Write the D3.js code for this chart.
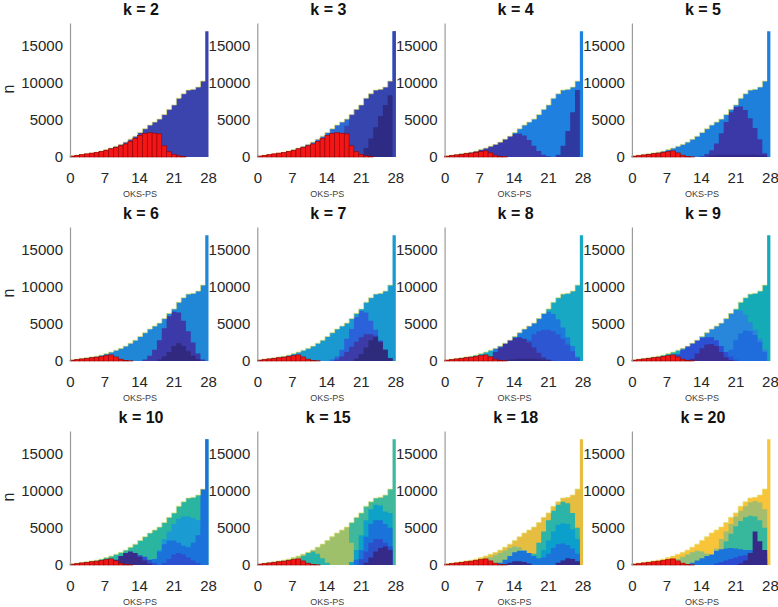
<!DOCTYPE html>
<html><head><meta charset="utf-8">
<script src="https://cdn.jsdelivr.net/npm/d3@7"></script>
<style>
body{margin:0;background:#fff}
text{font-family:"Liberation Sans",Arial,Helvetica,sans-serif}
</style>
</head><body>
<svg id="chart" width="778" height="607"></svg>
<script>
// ---------- data ----------
// bin index 0..27 are the regular bins, index 28 is the narrow bin at 28
const NB = 29;
const at = (start, vals) => { const a = new Array(NB).fill(0); vals.forEach((v, j) => a[start + j] = v); return a; };

const titles = ["k = 2","k = 3","k = 4","k = 5","k = 6","k = 7","k = 8","k = 9","k = 10","k = 15","k = 18","k = 20"];
const xTicks = [0, 7, 14, 21, 28];
const yTicks = [0, 5000, 10000, 15000];

// total histogram (outer envelope), same in every panel
const total = [150,250,350,450,550,650,800,1000,1200,1450,1700,2000,2400,2800,3300,3800,4300,4700,5100,5700,6400,7000,7900,8500,9000,9100,9400,10200,16900];

// red cluster
const redA = at(0, [130,230,330,420,520,620,750,900,1100,1300,1500,1750,2100,2500,2900,3150,3250,3200,3100,1500,700,350,150,80]);
const redB = at(0, [120,200,280,360,440,520,620,720,820,550,250,80,30]);

// other clusters (region tops, drawn back to front)
const k2Layers = [total];
const k2Colors = ["#3b44ad"];

const k3Layers = [total,
  at(14, [300,800,1500,2600,4200,5700,6400,7000,7900,8500,9000,9100,9400,10200,16900]),
  at(21, [300,1200,2500,4000,5500,7000,8300])];
const k3Colors = ["#2f69d5", "#3745ae", "#2e2b84"];

const k4Layers = [total,
  at(0, [150,250,350,450,550,650,800,1000,1200,1450,1700,2000,2400,2800,3100,3150,2900,2300,1500,800,300,100]),
  at(23, [300,1500,3500,6000,9000])];
const k4Colors = ["#1f80e0", "#3a3ba8", "#2e3aa0"];

const k5Layers = [total,
  at(14, [100,400,900,1800,3200,4700,6000,6700,6800,6300,5200,3900,2400,500]),
  at(16, [200,250,300,300,300,300,300,300,300,300,250,200])];
const k5Colors = ["#1e80da", "#3a39a7", "#30298a"];

const k6Layers = [total,
  at(15, [200,700,1500,2800,4400,6000,6600,6500,5400,4000,2500,1000,200]),
  at(18, [200,600,1200,2000,2400,2000,1300,700,250,50])];
const k6Colors = ["#1f87d5", "#3b3aa8", "#30297f"];

const k7Layers = [total,
  at(15, [200,600,1500,3000,4300,5900,6700,6500,5400,4200,2800,1300,300]),
  at(16, [200,600,1200,1900,2600,3200,3600,3600,3400,2600,1500,400]),
  at(20, [300,900,1800,2800,3200,2600,1500,400])];
const k7Colors = ["#1999d0", "#2c62d9", "#3c3ba8", "#2e2a7c"];

const k8Layers = [total,
  at(10, [1700,2000,2400,2800,3300,3800,4300,4700,5100,5700,6300,6600,6300,5600,4500,3200,2000,600]),
  at(14, [500,1000,1800,2800,3600,4000,4200,4200,4000,3600,3000,2200,1300,400]),
  at(8, [200,600,1200,1800,2300,2800,3100,3200,3000,2500,1800,1100,500,200,50]),
  at(12, [100,200,250,300,300,300,300,250,200,150])];
const k8Colors = ["#18a8c4", "#1d78dc", "#2d56d3", "#3a35a0", "#31297f"];

const k9Layers = [total,
  at(10, [1700,2000,2400,2800,3300,3800,4300,4700,5100,5700,6400,6800,6800,6200,5200,4200,3000,1500]),
  at(19, [500,1500,2800,3700,4100,4000,3500,2600,1200]),
  at(9, [900,1500,2000,2400,2800,3100,3200,3200,2800,2000,1200,600,200]),
  at(12, [300,1000,1700,2200,2300,2000,1200,500,150])];
const k9Colors = ["#14aab6", "#2887da", "#1f6cdc", "#2b50d3", "#3b2f95"];

const k10Layers = [total,
  at(18, [2000,3500,4500,5500,6200,6500,6500,6300,6000,6000]),
  at(16, [400,800,1800,2800,3300,3300,3000,2600,2400,3000,4000,10200,16900]),
  at(11, [500,900,1200,1300,1100,700,300,0,300,800,1400,1600,1400,1000,600,300]),
  at(8, [200,700,1200,1600,1800,1600,1100,600,200])];
const k10Colors = ["#2ab5a0", "#1a9bd2", "#1a72da", "#2b50d0", "#372c8a"];

const k15Layers = [total,
  at(6, [800,1000,1200,1450,1700,2000,2400,2800,3300,3800,4300,4700,5100,3000,1500]),
  at(8, [700,1200,1600,1800,1500,900,300]),
  at(19, [400,2000,4000,6000,7500,8100,8000,7200,7000]),
  at(20, [700,2000,3800,5500,6000,6000,5500,5000]),
  at(21, [800,1800,3000,3500,3500,3000,2500]),
  at(22, [300,1000,1800,2300,2500,2000])];
const k15Colors = ["#3fb89b", "#9ec06a", "#28b3a8", "#0ea2c8", "#1a73d8", "#2c4fcc", "#352a87"];

const k18Layers = [total,
  at(9, [1000,1300,1600,1900,2300,2500,2400,2000,1500,1000]),
  at(18, [1500,3000,4500,6000,7300,8100,8500,8300,7000,5000]),
  at(19, [800,2000,3300,4500,5400,5600,5500,4800,3500]),
  at(11, [300,700,1200,1700,1900,1900,1600,1200,900,1000,1500,2300,2800,2900,2700,2200,1500]),
  at(12, [100,300,500,500,400,200,0,0,0,0,0,300,600,900,800,500])];
const k18Colors = ["#e5bd40", "#8fc07b", "#2db4a8", "#0ba0cc", "#1a74da", "#352a87"];

const k20Layers = [total,
  at(16, [1000,2200,3500,4500,5500,6500,7300,7900,8400,8600,8400,7500]),
  at(18, [2000,3200,4200,5200,5900,6400,6600,6500,6000,5000]),
  at(9, [800,1100,1400,1700,1900,1800,1500,1000]),
  at(12, [300,600,900,1200,1400,1900,2100,2200,2300,2200,2100,2000,2000,2000,1900,1500]),
  at(17, [200,400,600,800,1000,1200,1300,1300,1200,1000,800]),
  at(22, [200,600,1600,4500,3200,2000])];
const k20Colors = ["#f7c43a", "#a5bd6c", "#37b89d", "#8ec07c", "#1a74da", "#2a4bd0", "#352a87"];

const panelLayers = [k2Layers,k3Layers,k4Layers,k5Layers,k6Layers,k7Layers,k8Layers,k9Layers,k10Layers,k15Layers,k18Layers,k20Layers];
const panelColors = [k2Colors,k3Colors,k4Colors,k5Colors,k6Colors,k7Colors,k8Colors,k9Colors,k10Colors,k15Colors,k18Colors,k20Colors];
const panelRed = [redA, redA, redB, redB, redB, redB, redB, redB, redB, redB, redB, redB];

// ---------- drawing ----------
const svg = d3.select("#chart");
const binW = 0.98;
const binLeft = i => i < 28 ? i * binW : 28 * binW;
const binRight = i => i < 28 ? (i + 1) * binW : 28.1;

titles.forEach((title, p) => {
  const col = p % 4, row = Math.floor(p / 4);
  const x0 = 70 + col * 187.3;
  const zeroY = 157 + row * 204;
  const x = d3.scaleLinear().domain([0, 28]).range([x0, x0 + 138]);
  const y = d3.scaleLinear().domain([0, 18000]).range([zeroY, zeroY - 134]);
  const g = svg.append("g");

  const area = d3.area().x(d => x(d[0])).y0(y(0)).y1(d => y(d[1]));
  const toPts = vals => {
    const pts = [];
    vals.forEach((v, i) => { pts.push([binLeft(i), v]); pts.push([binRight(i), v]); });
    return pts;
  };

  panelLayers[p].forEach((vals, li) => {
    g.append("path").attr("d", area(toPts(vals))).attr("fill", panelColors[p][li]);
  });

  // thin light edge along the top of the envelope
  const line = d3.line().x(d => x(d[0])).y(d => y(d[1]));
  g.append("path").attr("d", line(toPts(total.slice(0, 28))))
    .attr("fill", "none").attr("stroke", "#e4e27a").attr("stroke-width", 1).attr("opacity", 0.75);

  // red cluster: individual bars with dark edges
  g.selectAll("rect.red").data(panelRed[p].map((v, i) => ({v, i})).filter(d => d.v > 0))
    .enter().append("rect")
    .attr("x", d => x(binLeft(d.i)))
    .attr("width", d => x(binRight(d.i)) - x(binLeft(d.i)))
    .attr("y", d => y(d.v))
    .attr("height", d => y(0) - y(d.v))
    .attr("fill", "#f21616").attr("stroke", "#9a0000").attr("stroke-width", 0.6);

  // y axis
  const ya = g.append("g").attr("transform", `translate(${x0},0)`)
    .call(d3.axisLeft(y).tickValues(yTicks).tickFormat(d3.format("d")).tickSize(0).tickSizeOuter(0).tickPadding(7));
  ya.select(".domain").attr("stroke", "#9a9a9a").attr("stroke-width", 1.2);
  ya.selectAll("text").attr("font-size", 15).attr("fill", "#262626");

  // x axis labels
  const xa = g.append("g").attr("transform", `translate(0,${zeroY})`)
    .call(d3.axisBottom(x).tickValues(xTicks).tickFormat(d3.format("d")).tickSize(0).tickPadding(15));
  xa.select(".domain").remove();
  xa.selectAll("text").attr("font-size", 15).attr("fill", "#262626");

  g.append("text").attr("x", x0 + 70).attr("y", zeroY + 40).attr("text-anchor", "middle")
    .attr("font-size", 9).attr("fill", "#404040").text("OKS-PS");

  g.append("text").attr("x", x0 + 71).attr("y", zeroY - 142).attr("text-anchor", "middle")
    .attr("font-size", 16).attr("font-weight", "bold").attr("fill", "#111").text(title);

  if (col === 0) {
    g.append("text").attr("transform", `translate(14,${zeroY - 68}) rotate(-90)`)
      .attr("text-anchor", "middle").attr("font-size", 16).attr("fill", "#262626").text("n");
  }
});
</script>
</body></html>
